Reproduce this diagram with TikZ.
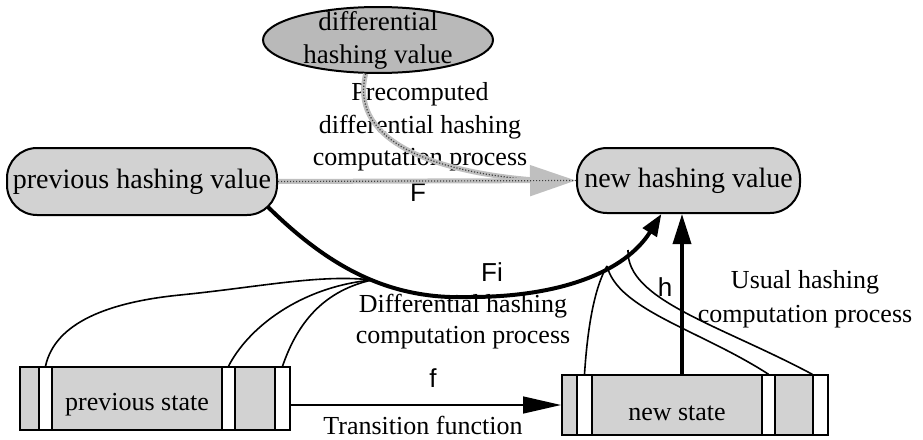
\documentclass[tikz,border=0pt]{standalone}
\usepackage{fontspec}
\setmainfont{Liberation Serif}
\newfontfamily\sanslabel{Liberation Sans}
\usetikzlibrary{shapes.geometric}
\usetikzlibrary{arrows.meta}
\usetikzlibrary{calc}

\begin{document}
\begin{tikzpicture}[x=1pt,y=-1pt,
  serif/.style={font=\fontsize{26}{32}\selectfont, align=center, inner sep=0pt},
  fnlabel/.style={font=\sanslabel\fontsize{26}{30}\selectfont, inner sep=0pt},
  hashbox/.style={draw, line width=2pt, rounded corners=30pt, fill=gray!35, inner sep=0pt, font=\fontsize{28}{32}\selectfont},
  dhvshape/.style={ellipse, draw, line width=2pt, fill=gray!55, inner sep=0pt, minimum width=230, minimum height=66},
  statebox/.style={draw, line width=2pt, fill=gray!35, inner sep=0pt},
  stripe/.style={draw, line width=1.5pt, fill=white, inner sep=0pt, minimum width=13},
  feed/.style={line width=1.6pt},
  stipple/.style={draw=gray!50, line width=5pt,
    postaction={draw=black!75, line width=1.2pt, dash pattern=on 1.2pt off 1.8pt, -}}]
\useasboundingbox (0,0) rectangle (923,439);

%Shape: Ellipse
\node[dhvshape] (dhv) at (378,40) {};
\node[serif, font=\fontsize{27}{33}\selectfont] (dhvtext) at (dhv.center) {differential\\hashing value};
%Shape: Rounded Rect
\node[hashbox, minimum width=270, minimum height=67] (phv) at (142,181.5) {previous hashing value};
%Shape: Rounded Rect
\node[hashbox, minimum width=223, minimum height=65] (nhv) at (688.5,180.5) {new hashing value};

%Shape: Rectangle
\node[statebox, minimum width=270, minimum height=63] (ps) at (155,398.5) {};
\node[stripe, minimum height=63] (ps1) at (45.5,398.5) {};
\node[stripe, minimum height=63] (ps2) at (228.5,398.5) {};
\node[stripe, minimum height=63, minimum width=15] (ps3) at (282.5,398.5) {};
\node[serif] (pstext) at ($(ps1.east)!0.5!(ps2.west)+(0,6)$) {previous state};
%Shape: Rectangle
\node[statebox, minimum width=266, minimum height=60] (ns) at (695,405) {};
\node[stripe, minimum height=60, minimum width=15] (ns1) at (584.5,405) {};
\node[stripe, minimum height=60] (ns2) at (768.5,405) {};
\node[stripe, minimum height=60, minimum width=15] (ns3) at (820.5,405) {};
\node[serif] (nstext) at ($(ns1.east)!0.5!(ns2.west)+(0,8)$) {new state};

% Text Node
\node[serif, font=\fontsize{26}{32.5}\selectfont] (pretext) at (420,127) {Precomputed\\differential hashing\\computation process};
% Text Node
\node[serif, font=\fontsize{26}{31}\selectfont] (difftext) at (463,322) {Differential hashing\\computation process};
% Text Node
\node[serif, font=\fontsize{26}{34}\selectfont] (usualtext) at (805,299) {Usual hashing\\computation process};
% Text Node
\node[serif] (transtext) at (423,425) {Transition function};
\node[fnlabel] (lblF) at (418,193) {F};
\node[fnlabel] (lblFi) at (492,272) {Fi};
\node[fnlabel] (lblf) at (433,378) {f};
\node[fnlabel] (lblh) at (665,287) {h};

\coordinate (mL) at (372,280);
\coordinate (mR) at (607,266);
\coordinate (mR2) at (628,250);
\coordinate (mT) at ($(nhv.west)+(-35,0)$);
\coordinate (hbase) at ([xshift=-13pt]ns.north);

%Curve Lines
\draw[stipple] (dhv.250) .. controls (350,135) and (420,172) .. (mT);
%Straight Lines
\draw[stipple, -{Triangle[length=46pt,width=30pt]}] (phv.east) -- (nhv.west);

%Curve Lines
\draw[feed] (ps1.north) .. controls (55,322) and (110,302) .. (180,295) .. controls (260,287) and (320,274) .. (mL);
\draw[feed] (ps2.north) .. controls (248,328) and (300,287) .. (mL);
\draw[feed] (ps3.north) .. controls (295,330) and (318,292) .. (mL);
\draw[feed] (ns1.north) .. controls (588,320) and (596,285) .. (mR);
\draw[feed] (ns2.north) .. controls (700,330) and (618,310) .. (mR);
\draw[feed] (ns3.north west) .. controls (720,325) and (626,300) .. (mR2);

%Curve Lines
\draw[line width=4pt, -{Triangle[length=22pt,width=16pt]}] ([shift={(-10,-9)}]phv.south east) .. controls (330,268) and (390,300) .. (470,297) .. controls (560,297) and (625,272) .. (nhv.231);
%Straight Lines
\draw[line width=3.5pt, -{Triangle[length=30pt,width=18pt]}] (hbase) -- (hbase |- nhv.south);
%Straight Lines
\draw[line width=1.5pt, -{Triangle[length=38pt,width=17pt]}] (ps.east |- ns.west) -- (ns.west);
\end{tikzpicture}
\end{document}
